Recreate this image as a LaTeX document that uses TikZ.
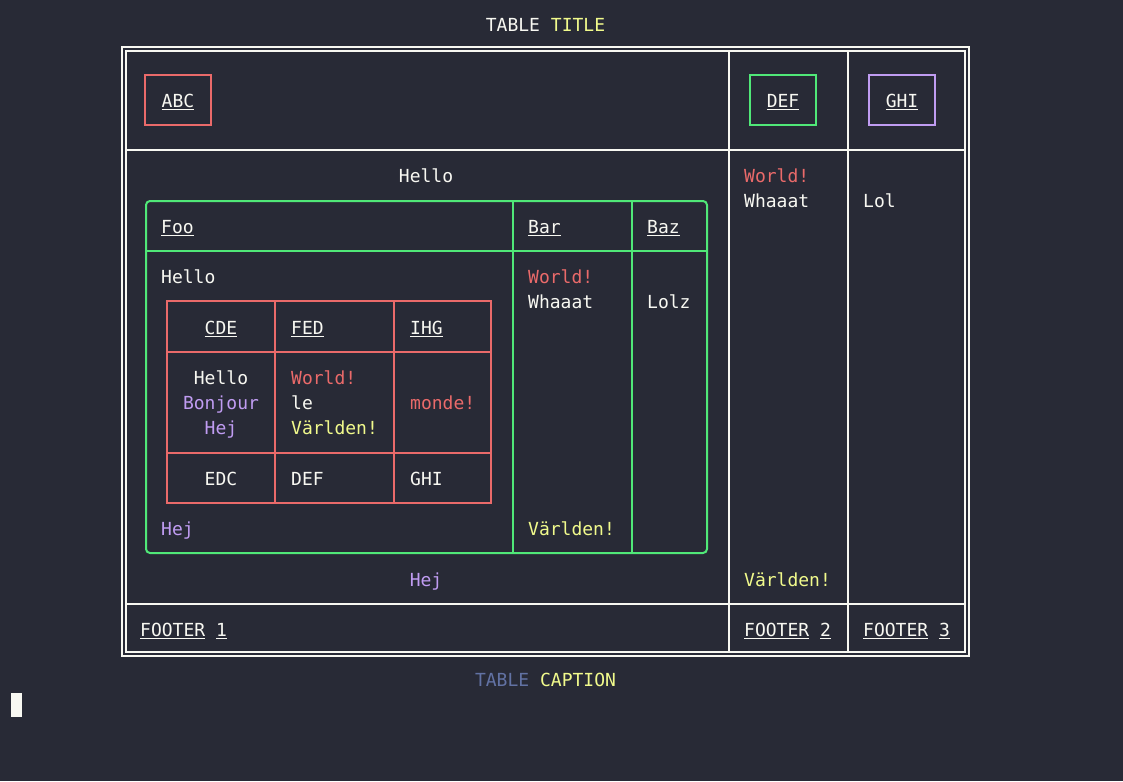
\documentclass[tikz,border=0pt]{standalone}
\usepackage{fontspec}
\setmonofont{DejaVu Sans Mono}
\definecolor{bgcol}{HTML}{282A36}
\definecolor{fgcol}{HTML}{F8F8F2}
\definecolor{redcol}{HTML}{EA6A6A}
\definecolor{grncol}{HTML}{50E878}
\definecolor{purcol}{HTML}{C09CF2}
\definecolor{yelcol}{HTML}{F1FA8C}
\definecolor{cmtcol}{HTML}{6272A4}
\tikzset{
  txt/.style={inner sep=0pt, anchor=base west, text=fgcol, font=\ttfamily\fontsize{18}{25}\selectfont},
  ctxt/.style={txt, anchor=base},
  frame/.style={draw=fgcol, line width=1.5pt},
  cellbox/.style={line width=2pt},
}
\begin{document}
\begin{tikzpicture}[x=1pt,y=-1pt]
\fill[bgcol] (0,0) rectangle (1123,781);
\useasboundingbox (0,0) rectangle (1123,781);

% outer table
\draw[frame] (122,47) rectangle (969,656);
\draw[frame] (126,51) rectangle (965,652);
\foreach \y in {150,604}{
    \draw[frame] (126,\y) -- (965,\y);
}
\foreach \x in {729,848}{
    \draw[frame] (\x,51) -- (\x,652);
}

% header boxes
\foreach \name/\xa/\xb/\col in {ABC/145/211/redcol, DEF/750/816/grncol, GHI/869/935/purcol}{
    \draw[cellbox, draw=\col] (\xa,75) rectangle (\xb,125);
    \node[ctxt] (hd\name) at ({(\xa+\xb)/2},107.5) {\underline{\name}};
}

% green table
\draw[cellbox, draw=grncol, rounded corners=4pt] (146,201) rectangle (707,553);
\draw[cellbox, draw=grncol] (146,251) -- (707,251);
\foreach \x in {513,632}{
    \draw[cellbox, draw=grncol] (\x,201) -- (\x,553);
}

% red table
\draw[cellbox, draw=redcol] (167,301) rectangle (491,503);
\foreach \y in {352,453}{
    \draw[cellbox, draw=redcol] (167,\y) -- (491,\y);
}
\foreach \x in {275,394}{
    \draw[cellbox, draw=redcol] (\x,301) -- (\x,503);
}

% left aligned texts
\foreach \x/\y/\t/\c [count=\i] in {
    161/233.5/{\underline{Foo}}/fgcol, 528/233.5/{\underline{Bar}}/fgcol, 647/233.5/{\underline{Baz}}/fgcol,
    161/283.5/Hello/fgcol, 528/283.5/World!/redcol, 528/308.5/Whaaat/fgcol, 647/308.5/Lolz/fgcol,
    161/535.5/Hej/purcol, 528/535.5/Världen!/yelcol,
    291/334.5/{\underline{FED}}/fgcol, 410/334.5/{\underline{IHG}}/fgcol,
    291/384.5/World!/redcol, 291/409.5/le/fgcol, 291/434.5/Världen!/yelcol, 410/409.5/monde!/redcol,
    291/485.5/DEF/fgcol, 410/485.5/GHI/fgcol,
    744/182.5/World!/redcol, 744/207.5/Whaaat/fgcol, 744/586.5/Världen!/yelcol, 863/207.5/Lol/fgcol,
    140/636.5/{\underline{FOOTER} \underline{1}}/fgcol, 744/636.5/{\underline{FOOTER} \underline{2}}/fgcol,
    863/636.5/{\underline{FOOTER} \underline{3}}/fgcol}{
    \node[txt, text=\c] (lt\i) at (\x,\y) {\t};
}

% centered texts
\foreach \x/\y/\t/\c [count=\i] in {
    426/182.5/Hello/fgcol, 221/334.5/{\underline{CDE}}/fgcol,
    221/384.5/Hello/fgcol, 221/409.5/Bonjour/purcol, 221/434.5/Hej/purcol,
    221/485.5/EDC/fgcol, 426/586.5/Hej/purcol}{
    \node[ctxt, text=\c] (ct\i) at (\x,\y) {\t};
}

\node[ctxt] (title) at (545.5,31.5) {TABLE \textcolor{yelcol}{TITLE}};
\node[ctxt] (caption) at (545.5,686.5) {\textcolor{cmtcol}{TABLE} \textcolor{yelcol}{CAPTION}};

% cursor
\fill[fgcol] (11,693) rectangle (22,717);

\end{tikzpicture}
\end{document}
